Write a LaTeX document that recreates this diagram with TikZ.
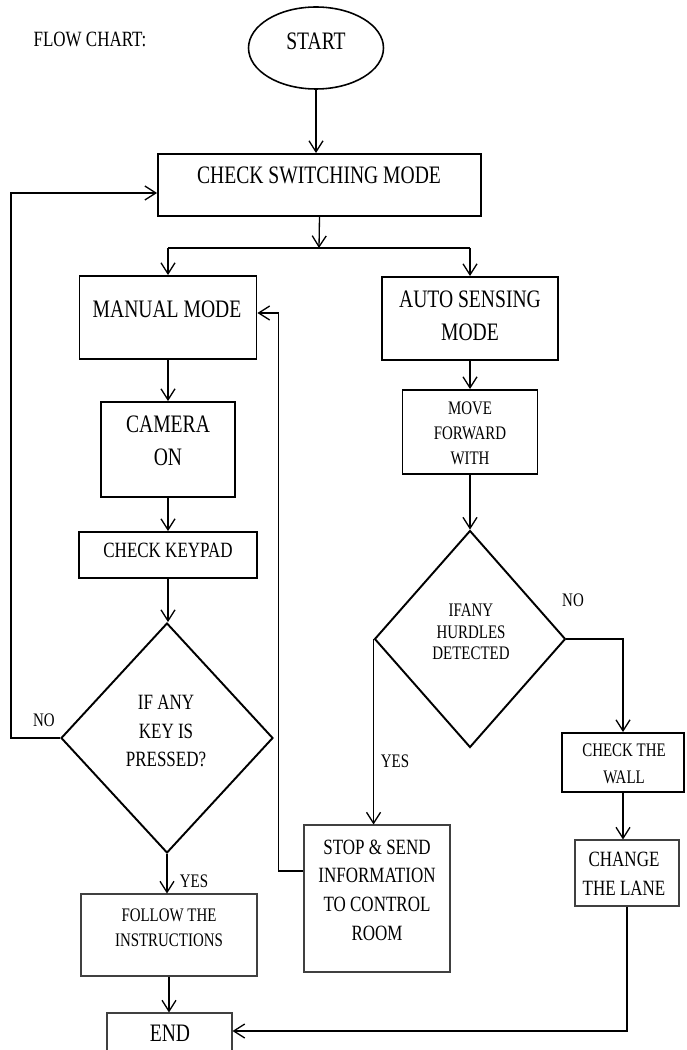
\documentclass[tikz,border=0pt]{standalone}
\usepackage{fontspec}
\setmainfont{Liberation Serif}[FakeStretch=0.78]
\usetikzlibrary{shapes.geometric,arrows.meta}
\begin{document}
\begin{tikzpicture}[x=0.02cm, y=-0.02cm]
\tikzset{boite/.style={draw, line width=1.1pt, inner sep=0pt},
  fine/.style={draw=black!75, line width=0.6pt, inner sep=0pt},
  losange/.style={draw, diamond, line width=1.1pt, inner sep=0pt},
  grand/.style={font=\fontsize{14.3}{18.8}\selectfont, align=center, inner sep=0pt},
  moyen/.style={font=\fontsize{12.4}{16.3}\selectfont, align=center, inner sep=0pt},
  petit/.style={font=\fontsize{10.9}{14.2}\selectfont, align=center, inner sep=0pt},
  fleche/.style={->, line width=0.75pt, >={Straight Barb[length=2.2mm, width=2.8mm]}},
  trait/.style={line width=0.75pt}}
\useasboundingbox (0,0) rectangle (686,1050);
\clip (0,0) rectangle (686,1050);
% titre et debut
\node[moyen] (T) at (90,39) {FLOW CHART:};
\node[draw, ellipse, line width=0.9pt, minimum width=2.7cm, minimum height=1.64cm, inner sep=0pt] (S) at (316,48) {};
\node[grand] (St) at (316,41) {START};
\node[boite, minimum width=6.46cm, minimum height=1.24cm] (C) at (319.5,185) {};
\node[grand] (Ct) at (319,175) {CHECK SWITCHING MODE};
% colonne gauche
\node[boite, minimum width=3.54cm, minimum height=1.66cm] (M) at (168,317.5) {};
\node[grand] (Mt) at (167,309) {MANUAL MODE};
\node[boite, minimum width=2.68cm, minimum height=1.9cm] (K) at (168,449.5) {};
\node[grand] (Kt) at (168,441) {CAMERA\\ON};
\node[boite, minimum width=3.56cm, minimum height=0.92cm] (P) at (168,555) {};
\node[moyen] (Pt) at (168,550) {CHECK KEYPAD};
\node[losange, minimum width=4.24cm, minimum height=4.6cm] (D1) at (167,738) {};
\node[moyen] (D1t) at (166,731) {IF ANY\\KEY IS\\PRESSED?};
\node[fine, minimum width=3.52cm, minimum height=1.64cm] (F) at (169,935) {};
\node[petit] (Ft) at (169,927.5) {FOLLOW THE\\INSTRUCTIONS};
\node[fine, minimum width=2.5cm, minimum height=0.94cm] (E) at (169.5,1036.5) {};
\node[grand] (Et) at (170,1033) {END};
% colonne droite
\node[boite, minimum width=3.52cm, minimum height=1.66cm] (A) at (470,318.5) {};
\node[grand] (At) at (470,315.5) {AUTO SENSING\\MODE};
\node[boite, minimum width=2.7cm, minimum height=1.68cm] (W) at (470,432) {};
\node[petit] (Wt) at (470,433) {MOVE\\FORWARD\\WITH};
\node[losange, minimum width=3.82cm, minimum height=4.34cm] (D2) at (470,639) {};
\node[petit, font=\fontsize{10.9}{12.2}\selectfont] (D2t) at (471,632) {IFANY\\HURDLES\\DETECTED};
\node[boite, minimum width=2.44cm, minimum height=1.18cm] (L) at (623,762.5) {};
\node[petit, font=\fontsize{10.9}{15.4}\selectfont] (Lt) at (624,763.5) {CHECK THE\\WALL};
\node[fine, minimum width=2.08cm, minimum height=1.32cm] (G) at (627,873) {};
\node[moyen] (Gt) at (624,873.5) {CHANGE\\THE LANE};
\node[fine, minimum width=2.92cm, minimum height=2.94cm] (X) at (377,898.5) {};
\node[moyen] (Xt) at (377,890) {STOP \& SEND\\INFORMATION\\TO CONTROL\\ROOM};
% etiquettes
\node[petit] (N1) at (44,720) {NO};
\node[petit] (Y1) at (194,881) {YES};
\node[petit] (N2) at (573,600) {NO};
\node[petit] (Y2) at (395,761) {YES};
% liaisons
\coordinate (J) at (319,248);
\draw[fleche] (S.south) -- (S.south |- C.north);
\draw[fleche] (C.south) -- (J);
\draw[trait] (J -| M.north) -- (J -| A.north);
\draw[fleche] (J -| M.north) -- (M.north);
\draw[fleche] (J -| A.north) -- (A.north);
\draw[fleche] (M.south) -- (K.north);
\draw[fleche] (K.south) -- (P.north);
\draw[fleche] (P.south) -- (P.south |- D1.north);
\draw[fleche] (D1.south) -- (D1.south |- F.north);
\draw[fleche] (F.south) -- (F.south |- E.north);
\draw[fleche] (D1.west) -- ++(-49,0) |- ([yshift=-0.16cm]C.west);
\draw[fleche] (A.south) -- (W.north);
\draw[fleche] (W.south) -- (D2.north);
\draw[fleche] (D2.east) -| (L.north);
\draw[fleche] (L.south) -- (L.south |- G.north);
\draw[fleche] (D2.west) -- (D2.west |- X.north);
\draw[fleche] ([yshift=0.55cm]X.west) -- ++(-25,0) |- ([yshift=0.09cm]M.east);
\draw[fleche] (G.south) |- ([yshift=0.11cm]E.east);
\end{tikzpicture}
\end{document}
